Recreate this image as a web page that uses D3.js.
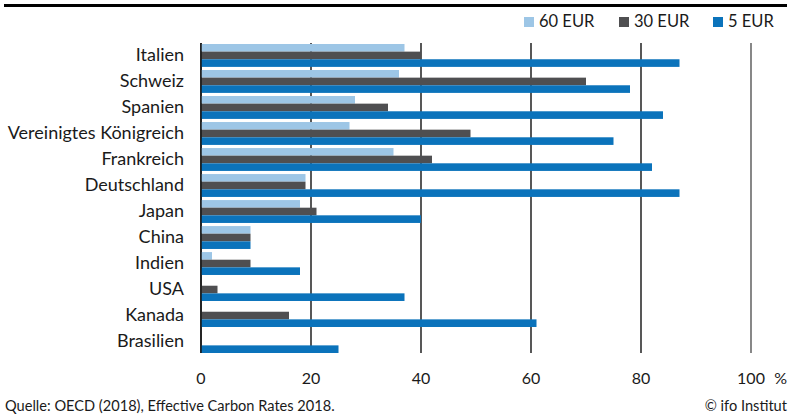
<!DOCTYPE html>
<html>
    <head>
        <title>Effective Carbon Rates</title>
        <style>
            body { margin: 0; background: #fff; }
            svg text { font-family: Lato, "Noto Sans", sans-serif; fill: #1a1a1a; }
        </style>
        <script src="https://cdnjs.cloudflare.com/ajax/libs/d3/7.0.4/d3.min.js" charset="utf-8"></script>
    </head>
    <body>
        <div class="ChartContainer"></div>
        <script>
            // Anteil der Emissionen mit CO2-Preis über der Schwelle, in %
            const countries = ["Italien", "Schweiz", "Spanien", "Vereinigtes Königreich", "Frankreich",
                "Deutschland", "Japan", "China", "Indien", "USA", "Kanada", "Brasilien"];
            const seriesNames = ["60 EUR", "30 EUR", "5 EUR"];
            const eur60 = [37, 36, 28, 27, 35, 19, 18, 9, 2, 0, 0, 0];
            const eur30 = [40, 70, 34, 49, 42, 19, 21, 9, 9, 3, 16, 0];
            const eur5  = [87, 78, 84, 75, 82, 87, 40, 9, 18, 37, 61, 25];
            const tickValues = [0, 20, 40, 60, 80, 100];
            const colors = ["#9dc6e6", "#4f4f51", "#0b73bb"];

            const w = 792;
            const h = 414;

            const svg = d3.select(".ChartContainer")
                .append("svg")
                .attr("width", w)
                .attr("height", h);

            // top rule
            svg.append("line")
                .attr("x1", 4).attr("x2", 787)
                .attr("y1", 5.5).attr("y2", 5.5)
                .attr("stroke", "#000")
                .attr("stroke-width", 3);

            const x = d3.scaleLinear().domain([0, 100]).range([201, 751]);
            const y = d3.scaleBand().domain(countries).range([44, 353]).paddingInner(0.12).paddingOuter(0);
            const ySub = d3.scaleBand().domain(seriesNames).range([0, y.bandwidth()]);

            const rows = countries.map((c, i) => ({
                country: c,
                values: [eur60[i], eur30[i], eur5[i]]
            }));

            // gridlines
            svg.selectAll(".grid")
                .data(tickValues)
                .enter()
                .append("line")
                    .attr("class", "grid")
                    .attr("x1", d => x(d)).attr("x2", d => x(d))
                    .attr("y1", 43).attr("y2", 353)
                    .attr("stroke", d => d == 100 ? "#555" : "#111")
                    .attr("stroke-width", 1.4);

            // bars
            const groups = svg.selectAll(".row")
                .data(rows)
                .enter()
                .append("g")
                    .attr("class", "row")
                    .attr("transform", d => "translate(0," + y(d.country) + ")");

            groups.selectAll("rect")
                .data(d => d.values.map((v, j) => ({ name: seriesNames[j], value: v, idx: j })))
                .enter()
                .append("rect")
                    .attr("x", x(0))
                    .attr("y", d => ySub(d.name))
                    .attr("width", d => x(d.value) - x(0))
                    .attr("height", ySub.bandwidth())
                    .attr("fill", d => colors[d.idx]);

            // redraw zero line on top of bars
            svg.append("line")
                .attr("x1", x(0)).attr("x2", x(0))
                .attr("y1", 43).attr("y2", 353)
                .attr("stroke", "#111")
                .attr("stroke-width", 1.4);

            // category labels
            svg.selectAll(".cat")
                .data(countries)
                .enter()
                .append("text")
                    .attr("class", "cat")
                    .attr("x", 184)
                    .attr("y", d => y(d) + y.bandwidth() / 2)
                    .attr("dy", "0.33em")
                    .attr("text-anchor", "end")
                    .style("font-size", "18px")
                    .text(d => d);

            // x tick labels
            svg.selectAll(".tick")
                .data(tickValues)
                .enter()
                .append("text")
                    .attr("class", "tick")
                    .attr("x", d => x(d))
                    .attr("y", 384)
                    .attr("text-anchor", "middle")
                    .style("font-size", "16px")
                    .text(d => d);
            svg.append("text").attr("x", 787).attr("y", 384).attr("text-anchor", "end")
                .style("font-size", "16px").text("%");

            // legend
            const legendX = [524, 619, 713];
            seriesNames.forEach((s, i) => {
                svg.append("rect").attr("x", legendX[i]).attr("y", 17).attr("width", 10).attr("height", 10)
                    .attr("fill", colors[i]);
                svg.append("text").attr("x", legendX[i] + 15).attr("y", 27)
                    .style("font-size", "16.5px").text(s);
            });

            // footer
            svg.append("text").attr("x", 5).attr("y", 411)
                .style("font-size", "14.6px").text("Quelle: OECD (2018), Effective Carbon Rates 2018.");
            svg.append("text").attr("x", 787).attr("y", 411).attr("text-anchor", "end")
                .style("font-size", "14.6px").text("© ifo Institut");
        </script>
    </body>
</html>
